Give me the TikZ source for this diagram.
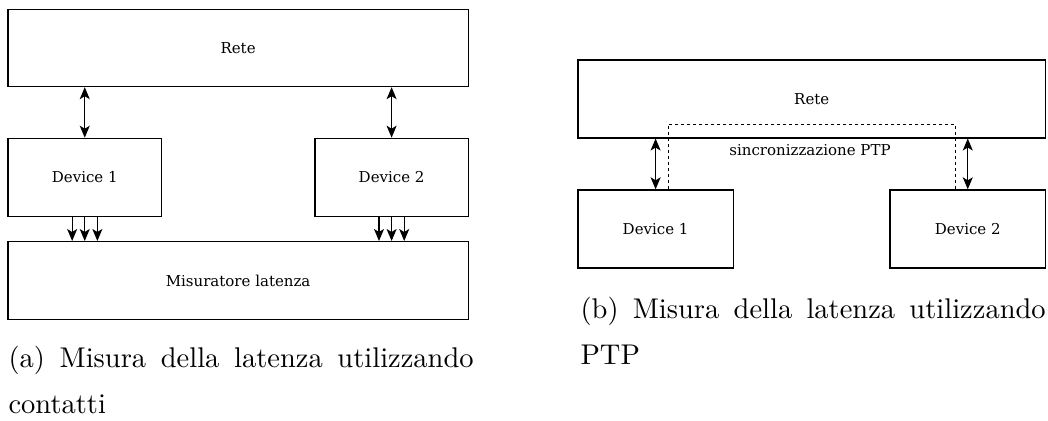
\documentclass[tikz,border=0pt]{standalone}
\usepackage{fontspec}
\newfontfamily\diagfont{DejaVu Serif}
\usetikzlibrary{arrows.meta}
\begin{document}
\begin{tikzpicture}[x=1pt,y=-1pt,
  box/.style={draw, line width=1.2pt, inner sep=0pt, anchor=north west,
    font=\diagfont\fontsize{15}{18}\selectfont},
  lbl/.style={inner sep=0pt, font=\diagfont\fontsize{15}{18}\selectfont},
  link/.style={line width=1.3pt, {Stealth[length=12pt,width=10pt,inset=3pt]}-{Stealth[length=12pt,width=10pt,inset=3pt]}},
  down/.style={line width=1.3pt, -{Stealth[length=12pt,width=10pt,inset=3pt]}},
  sync/.style={line width=1pt, dash pattern=on 3pt off 3pt},
  caption/.style={anchor=north west, inner sep=0pt, text width=163.2pt, align=justify,
    font=\fontsize{10}{16.1}\selectfont,
    execute at begin node={\tolerance=9999\hyphenpenalty=10000}}
]
\useasboundingbox (0,0) rectangle (1048,420);

% (a) latency measured through contacts
\node[box, minimum width=460.4pt, minimum height=77.3pt] (reteA) at (7.3,8.7) {Rete};
\node[box, minimum width=153.7pt, minimum height=78pt] (dev1A) at (7.3,137.7) {Device 1};
\node[box, minimum width=153.4pt, minimum height=78pt] (dev2A) at (314.3,137.7) {Device 2};
\node[box, minimum width=460.4pt, minimum height=78pt] (misA) at (7.3,241) {Misuratore latenza};

\draw[link] (dev1A.north) -- (reteA.south -| dev1A.north);
\draw[link] (dev2A.north) -- (reteA.south -| dev2A.north);
\foreach \dx in {-12.6,0,12.6} {
  \draw[down] ([xshift=\dx pt]dev1A.south) -- ([xshift=\dx pt]dev1A.south |- misA.north);
  \draw[down] ([xshift=\dx pt]dev2A.south) -- ([xshift=\dx pt]dev2A.south |- misA.north);
}

\begin{scope}[shift={(8,345.6)}, scale=2.85, transform shape]
  \node[caption] (capA) at (0,0) {(a) Misura della latenza utilizzando contatti};
\end{scope}

% (b) latency measured through PTP
\node[box, minimum width=467.7pt, minimum height=78pt] (reteB) at (577.3,59.3) {Rete};
\node[box, minimum width=155.4pt, minimum height=78pt] (dev1B) at (577.3,189.3) {Device 1};
\node[box, minimum width=155.7pt, minimum height=78pt] (dev2B) at (889.3,189.3) {Device 2};

\draw[link] (dev1B.north) -- (reteB.south -| dev1B.north);
\draw[link] (dev2B.north) -- (reteB.south -| dev2B.north);

\coordinate (syncTop) at (810,124);
\draw[sync] ([xshift=12.5pt]dev1B.north) |- (syncTop) -| ([xshift=-12.7pt]dev2B.north);
\node[lbl] (syncLbl) at (810,150) {sincronizzazione PTP};

\begin{scope}[shift={(580,296.6)}, scale=2.85, transform shape]
  \node[caption] (capB) at (0,0) {(b) Misura della latenza utilizzando PTP};
\end{scope}
\end{tikzpicture}
\end{document}
